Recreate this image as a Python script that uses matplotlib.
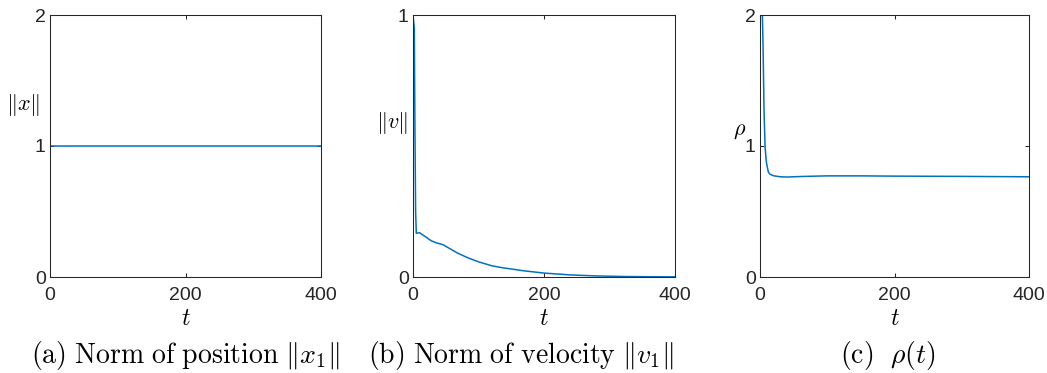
import numpy as np
import matplotlib
matplotlib.use("Agg")
import matplotlib.pyplot as plt

plt.rcParams['mathtext.fontset'] = 'cm'
plt.rcParams['font.family'] = ['Liberation Sans', 'DejaVu Sans']

# Data
t_x = [0, 400]
x_norm = [1.0, 1.0]

t_v = [0, 2, 3, 4, 5, 10, 20, 28, 35, 46, 55, 69, 85, 100, 120, 135, 168,
       200, 240, 280, 320, 360, 400]
v_norm = [1.0, 0.95, 0.55, 0.25, 0.167, 0.169, 0.152, 0.138, 0.131, 0.123,
          0.110, 0.090, 0.072, 0.058, 0.043, 0.036, 0.024, 0.015, 0.008,
          0.004, 0.002, 0.001, 0.0005]

t_rho = [0, 2, 3.5, 4.5, 6, 7.5, 9, 10, 12.5, 15, 20, 30, 40, 60, 100, 150,
         200, 300, 400]
rho = [3.0, 2.4, 2.0, 1.78, 1.27, 1.0, 0.9, 0.86, 0.80, 0.784, 0.773, 0.765,
       0.763, 0.767, 0.772, 0.772, 0.770, 0.768, 0.765]

xticks = [0, 200, 400]
captions = [r"$\mathrm{(a)\ Norm\ of\ position}\ \|x_1\|$",
            r"$\mathrm{(b)\ Norm\ of\ velocity}\ \|v_1\|$",
            r"$\mathrm{(c)}\ \ \rho(t)$"]
ylabels = [r"$\|x\|$", r"$\|v\|$", r"$\rho$"]

W, H = 1047, 373
fig = plt.figure(figsize=(W / 100, H / 100), dpi=100)

boxes = [(50, 321), (413, 675), (760, 1029)]
top, bottom = 15, 277
line_color = '#0072BD'
axcol = '#262626'

series = [(t_x, x_norm, (0, 2), [0, 1, 2]),
          (t_v, v_norm, (0, 1), [0, 1]),
          (t_rho, rho, (0, 2), [0, 1, 2])]
ylab_pos = [(-0.10, 0.607), (-0.08, 0.54), (-0.074, 0.52)]
cap_x = [185, 521, 888]

for i, ((l, r), (tt, yy, ylim, yt)) in enumerate(zip(boxes, series)):
    ax = fig.add_axes([l / W, (H - bottom) / H, (r - l) / W, (bottom - top) / H])
    ax.plot(tt, yy, color=line_color, lw=1.1, clip_on=True)
    ax.set_xlim(0, 400)
    ax.set_ylim(*ylim)
    ax.set_xticks(xticks)
    ax.set_yticks(yt)
    ax.tick_params(direction='in', length=3, width=0.75, top=True, right=True,
                   labelsize=14, colors=axcol)
    ax.tick_params(axis='x', pad=7)
    ax.tick_params(axis='y', pad=3)
    for s in ax.spines.values():
        s.set_color(axcol)
        s.set_linewidth(0.75)
    ax.set_xlabel(r"$t$", fontsize=17, labelpad=3)
    ax.set_ylabel(ylabels[i], fontsize=16, rotation=0)
    ax.yaxis.set_label_coords(*ylab_pos[i])
    fig.text(cap_x[i] / W, 1 - 355 / H, captions[i], ha='center', va='center',
             fontsize=20)

fig.savefig("out.png", dpi=100)
